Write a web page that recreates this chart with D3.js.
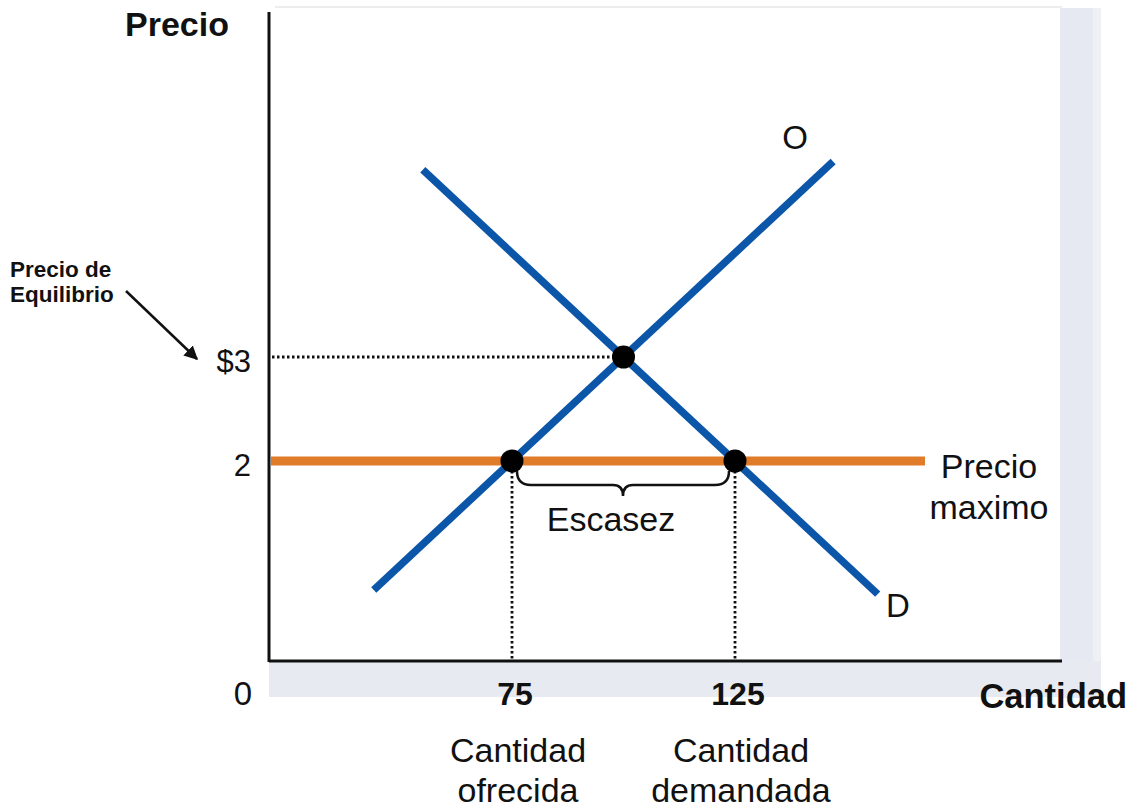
<!DOCTYPE html>
<html>
<head>
<meta charset="utf-8">
<script src="https://cdn.jsdelivr.net/npm/d3@7"></script>
<style>
	body { margin: 0; background: #fff; }
	text { font-family: "Liberation Sans", Arial, sans-serif; fill: #111; }
</style>
</head>
<body>
<script>
// supply (O) and demand (D) endpoints, quantity / price
const supply = [{ q: 44, p: 0.76 }, { q: 147, p: 4.88 }];
const demand = [{ q: 55, p: 4.8 }, { q: 157, p: 0.72 }];
const equilibrium = { q: 100, p: 3 };
const ceilingPrice = 2;
const ceilingPoints = [{ q: 75, p: 2 }, { q: 125, p: 2 }];
const xTicks = [75, 125];
const xTickLabels = ["75", "125"];
const yTicks = [3, 2];
const yTickLabels = ["$3", "2"];
const xNotes = [["Cantidad", "ofrecida"], ["Cantidad", "demandada"]];

const W = 1133, H = 810;
const axLeft = 269, axBottom = 661, axTop = 12, axRight = 1062;

let svg = d3.select("body").append("svg")
	.attr("width", W)
	.attr("height", H);

// scales calibrated on the labelled points
let x = d3.scaleLinear().domain([75, 125]).range([512, 735]);
let y = d3.scaleLinear().domain([2, 3]).range([461, 357]);

//panel frame: right wall and floor
svg.append("rect")
	.attr("x", axRight - 2).attr("y", 8)
	.attr("width", 40).attr("height", 690)
	.attr("fill", "#e6e9f1");
svg.append("rect")
	.attr("x", 1093).attr("y", 8)
	.attr("width", 8).attr("height", 690)
	.attr("fill", "#eef0f4");
svg.append("rect")
	.attr("x", axLeft).attr("y", axBottom)
	.attr("width", 832).attr("height", 36)
	.attr("fill", "#e8eaf1");
svg.append("line")
	.attr("x1", axLeft + 6).attr("x2", axRight)
	.attr("y1", 7).attr("y2", 7)
	.attr("stroke", "#ededed").attr("stroke-width", 2);

//dotted guides
let dotted = svg.append("g")
	.attr("stroke", "#111")
	.attr("stroke-width", 2.8)
	.attr("stroke-dasharray", "2.5,2.5");
dotted.append("line")
	.attr("x1", axLeft + 3).attr("x2", x(equilibrium.q))
	.attr("y1", y(equilibrium.p)).attr("y2", y(equilibrium.p));
dotted.selectAll("line.v")
	.data(ceilingPoints)
	.enter().append("line")
	.attr("class", "v")
	.attr("x1", d => x(d.q)).attr("x2", d => x(d.q))
	.attr("y1", d => y(d.p)).attr("y2", axBottom);

//price ceiling
svg.append("line")
	.attr("x1", axLeft + 2).attr("x2", 925)
	.attr("y1", y(ceilingPrice)).attr("y2", y(ceilingPrice))
	.attr("stroke", "#e07b2a")
	.attr("stroke-width", 9);

//supply and demand
let line = d3.line().x(d => x(d.q)).y(d => y(d.p));
svg.selectAll("path.curve")
	.data([supply, demand])
	.enter().append("path")
	.attr("class", "curve")
	.attr("d", line)
	.attr("fill", "none")
	.attr("stroke", "#0b56a8")
	.attr("stroke-width", 7.5);

//axes
svg.append("line")
	.attr("x1", axLeft).attr("x2", axLeft)
	.attr("y1", axTop).attr("y2", axBottom + 1)
	.attr("stroke", "#111").attr("stroke-width", 3);
svg.append("line")
	.attr("x1", axLeft).attr("x2", axRight)
	.attr("y1", axBottom).attr("y2", axBottom)
	.attr("stroke", "#111").attr("stroke-width", 3);

//points
svg.selectAll("circle")
	.data([equilibrium].concat(ceilingPoints))
	.enter().append("circle")
	.attr("cx", d => x(d.q))
	.attr("cy", d => y(d.p))
	.attr("r", 11.5)
	.attr("fill", "#000");

//brace under the shortage
let bx1 = x(75) + 5, bx2 = x(125) - 6, by = 471, bm = (bx1 + bx2) / 2;
svg.append("path")
	.attr("d", `M${bx1},${by} Q${bx1},${by + 14} ${bx1 + 14},${by + 14} L${bm - 10},${by + 14} Q${bm},${by + 14} ${bm},${by + 25} Q${bm},${by + 14} ${bm + 10},${by + 14} L${bx2 - 14},${by + 14} Q${bx2},${by + 14} ${bx2},${by}`)
	.attr("fill", "none")
	.attr("stroke", "#111")
	.attr("stroke-width", 2.5);

//y tick labels
svg.selectAll("text.ytick")
	.data(yTicks)
	.enter().append("text")
	.attr("class", "ytick")
	.attr("x", 251)
	.attr("y", d => y(d) + 15)
	.attr("text-anchor", "end")
	.attr("font-size", 31)
	.attr("fill", "#222")
	.text((d, i) => yTickLabels[i]);

//x tick labels
svg.selectAll("text.xtick")
	.data(xTicks)
	.enter().append("text")
	.attr("class", "xtick")
	.attr("x", d => x(d) + 3)
	.attr("y", 705)
	.attr("text-anchor", "middle")
	.attr("font-size", 32)
	.attr("font-weight", "bold")
	.text((d, i) => xTickLabels[i]);

svg.append("text")
	.attr("x", 243).attr("y", 705)
	.attr("text-anchor", "middle")
	.attr("font-size", 33)
	.attr("fill", "#333")
	.text("0");

//notes under the ticks
xNotes.forEach((lines, i) => {
	svg.append("text")
		.attr("text-anchor", "middle")
		.attr("font-size", 34)
		.selectAll("tspan")
		.data(lines)
		.enter().append("tspan")
		.attr("x", x(xTicks[i]) + 6)
		.attr("y", (d, j) => 762 + j * 40)
		.text(d => d);
});

//axis titles
svg.append("text")
	.attr("x", 125).attr("y", 36)
	.attr("font-size", 34)
	.attr("font-weight", "bold")
	.text("Precio");
svg.append("text")
	.attr("x", 1127).attr("y", 708)
	.attr("text-anchor", "end")
	.attr("font-size", 34.5)
	.attr("font-weight", "bold")
	.text("Cantidad");

//curve labels
svg.append("text")
	.attr("x", 795).attr("y", 149)
	.attr("text-anchor", "middle")
	.attr("font-size", 33)
	.text("O");
svg.append("text")
	.attr("x", 898).attr("y", 617)
	.attr("text-anchor", "middle")
	.attr("font-size", 33)
	.text("D");

svg.append("text")
	.attr("x", 611).attr("y", 531)
	.attr("text-anchor", "middle")
	.attr("font-size", 34)
	.text("Escasez");

svg.append("text")
	.attr("text-anchor", "middle")
	.attr("font-size", 34)
	.selectAll("tspan")
	.data(["Precio", "maximo"])
	.enter().append("tspan")
	.attr("x", 989)
	.attr("y", (d, j) => 478 + j * 41)
	.text(d => d);

//equilibrium note with arrow
svg.append("defs").append("marker")
	.attr("id", "head")
	.attr("viewBox", "0 0 10 10")
	.attr("refX", 9).attr("refY", 5)
	.attr("markerWidth", 5.5).attr("markerHeight", 5.5)
	.attr("orient", "auto")
	.append("path")
	.attr("d", "M0,0 L10,5 L0,10 z")
	.attr("fill", "#111");
svg.append("line")
	.attr("x1", 126).attr("y1", 291)
	.attr("x2", 197).attr("y2", 359)
	.attr("stroke", "#111")
	.attr("stroke-width", 2.5)
	.attr("marker-end", "url(#head)");

svg.append("text")
	.attr("font-size", 22.5)
	.attr("font-weight", "bold")
	.selectAll("tspan")
	.data(["Precio de", "Equilibrio"])
	.enter().append("tspan")
	.attr("x", 10)
	.attr("y", (d, j) => 277 + j * 25)
	.text(d => d);
</script>
</body>
</html>
